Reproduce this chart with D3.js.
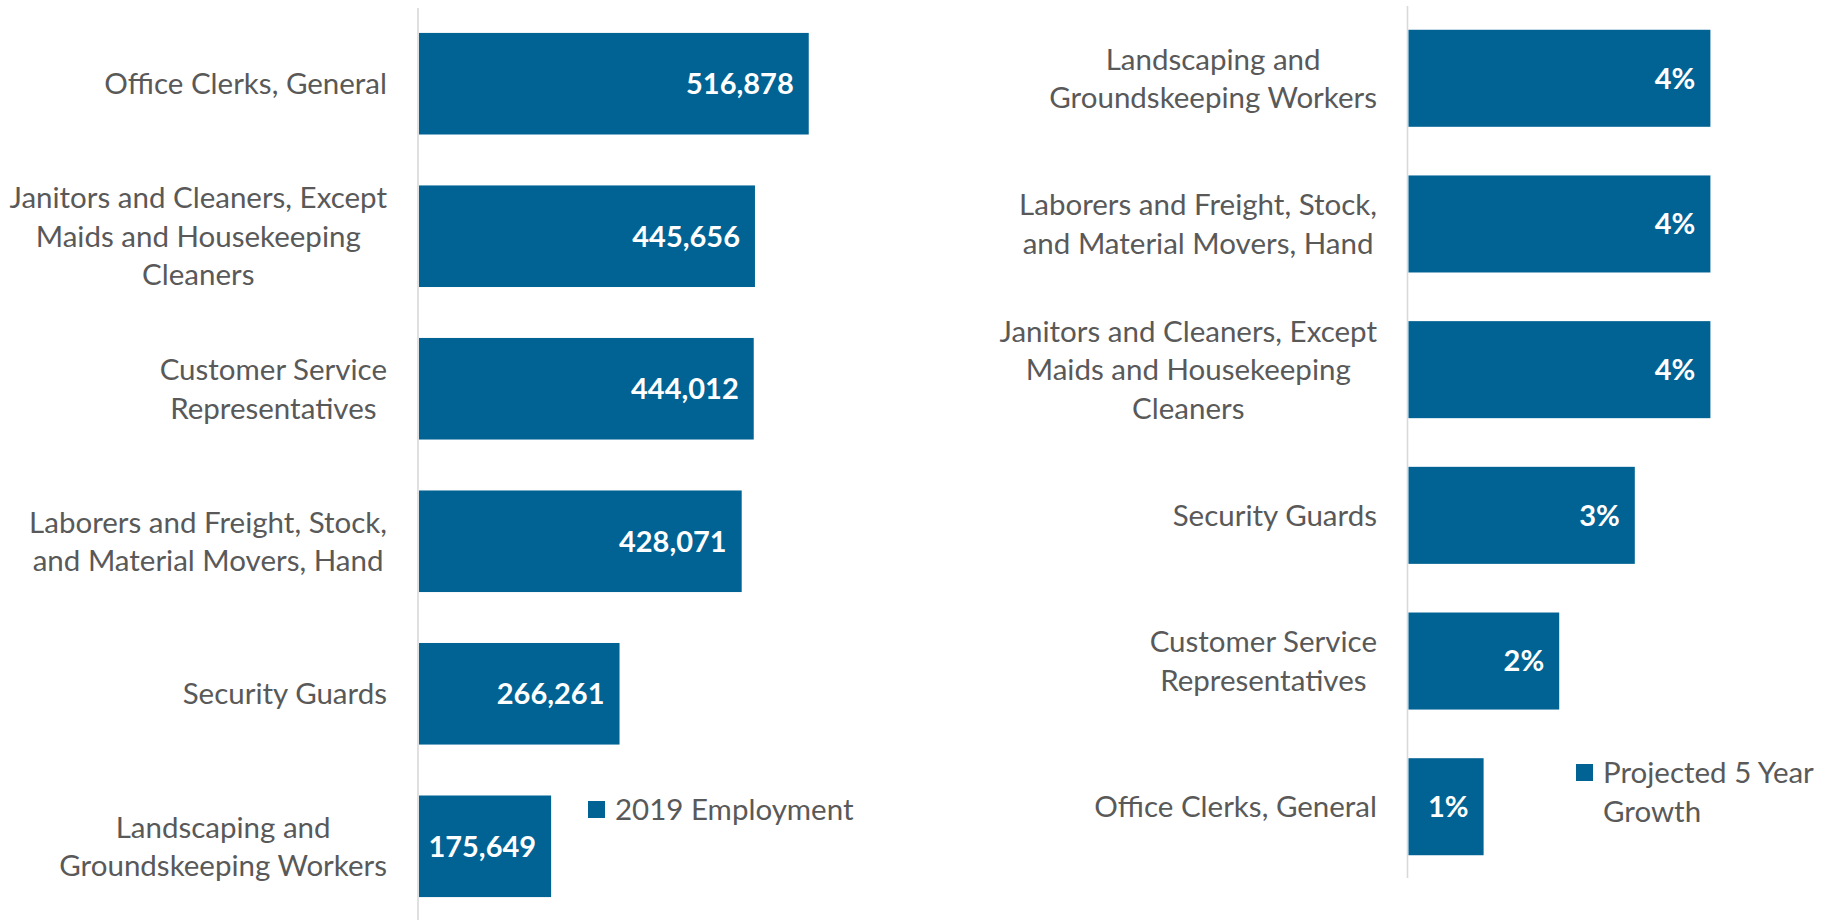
<!DOCTYPE html>
<html>
<head>
<meta charset="utf-8">
<script src="https://cdn.jsdelivr.net/npm/d3@7"></script>
<style>
  html, body { margin: 0; padding: 0; background: #ffffff; }
  svg { display: block; }
  text { font-family: Lato, "Open Sans", sans-serif; }
</style>
</head>
<body>
<svg id="chart" width="1835" height="920"></svg>
<script>
// Occupations by 2019 employment (left panel, top to bottom)
const employmentCategories = [
  "Office Clerks, General",
  "Janitors and Cleaners, Except\nMaids and Housekeeping\nCleaners",
  "Customer Service\nRepresentatives",
  "Laborers and Freight, Stock,\nand Material Movers, Hand",
  "Security Guards",
  "Landscaping and\nGroundskeeping Workers"
];
const employmentValues = [516878, 445656, 444012, 428071, 266261, 175649];
const employmentLegend = ["2019 Employment"];

// Occupations by projected 5-year growth, percent (right panel, top to bottom)
const growthCategories = [
  "Landscaping and\nGroundskeeping Workers",
  "Laborers and Freight, Stock,\nand Material Movers, Hand",
  "Janitors and Cleaners, Except\nMaids and Housekeeping\nCleaners",
  "Security Guards",
  "Customer Service\nRepresentatives",
  "Office Clerks, General"
];
const growthValues = [4, 4, 4, 3, 2, 1];
const growthLegend = ["Projected 5 Year", "Growth"];

const BAR = "#006394";
const AXIS = "#d9d9d9";
const TEXT = "#595959";
const FONT_SIZE = 29.5;
const VALUE_SIZE = 29;
const LINE_H = 38.5;

const svg = d3.select("#chart");
const fmtComma = d3.format(",");

function drawPanel(cfg) {
  const g = svg.append("g");

  const y = d3.scaleBand()
    .domain(cfg.categories)
    .range(cfg.yRange)
    .paddingInner(0.334)
    .paddingOuter(0.17);

  const x = d3.scaleLinear()
    .domain(cfg.xDomain)
    .range(cfg.xRange);

  // vertical category axis line
  g.append("line")
    .attr("x1", x(0) - 0.5).attr("x2", x(0) - 0.5)
    .attr("y1", cfg.axisY[0]).attr("y2", cfg.axisY[1])
    .attr("stroke", AXIS).attr("stroke-width", 1.6);

  const data = cfg.categories.map((c, i) => ({ c, v: cfg.values[i] }));

  // bars
  g.selectAll("rect.bar").data(data).join("rect")
    .attr("class", "bar")
    .attr("x", x(0) + 0.5)
    .attr("y", d => y(d.c))
    .attr("width", d => x(d.v) - x(0) - 0.5)
    .attr("height", y.bandwidth())
    .attr("fill", BAR);

  // value labels inside bar ends
  g.selectAll("text.val").data(data).join("text")
    .attr("class", "val")
    .attr("x", d => x(d.v) - 15)
    .attr("y", d => y(d.c) + y.bandwidth() / 2)
    .attr("dy", "0.36em")
    .attr("text-anchor", "end")
    .attr("font-size", VALUE_SIZE)
    .attr("font-weight", "bold")
    .attr("fill", "#ffffff")
    .text(d => cfg.format(d.v));

  // category labels: wrapped lines centred on each other, block right-aligned
  data.forEach(d => {
    const lines = d.c.split("\n");
    const lg = g.append("g");
    const cy = y(d.c) + y.bandwidth() / 2;
    const texts = lines.map((ln, i) =>
      lg.append("text")
        .attr("y", cy + (i - (lines.length - 1) / 2) * LINE_H)
        .attr("dy", "0.36em")
        .attr("text-anchor", "middle")
        .attr("font-size", FONT_SIZE)
        .attr("fill", TEXT)
        .text(ln)
    );
    const maxW = d3.max(texts, t => t.node().getComputedTextLength());
    texts.forEach(t => t.attr("x", cfg.labelRight - maxW / 2));
  });

  // legend
  const lg = g.append("g");
  lg.append("rect")
    .attr("x", cfg.legend.x).attr("y", cfg.legend.y)
    .attr("width", 17).attr("height", 17)
    .attr("fill", BAR);
  cfg.legend.lines.forEach((ln, i) => {
    lg.append("text")
      .attr("x", cfg.legend.x + 27)
      .attr("y", cfg.legend.y + 8.5 + i * LINE_H)
      .attr("dy", "0.36em")
      .attr("font-size", FONT_SIZE)
      .attr("fill", TEXT)
      .text(ln);
  });
}

drawPanel({
  categories: employmentCategories,
  values: employmentValues,
  xDomain: [0, 600000],
  xRange: [418.5, 418.5 + 600000 * 7.55e-4],
  yRange: [7, 923],
  axisY: [8, 920],
  labelRight: 387,
  format: fmtComma,
  legend: { x: 588, y: 801, lines: employmentLegend }
});

drawPanel({
  categories: growthCategories,
  values: growthValues,
  xDomain: [0, 5],
  xRange: [1408, 1408 + 5 * 75.6],
  yRange: [5, 880],
  axisY: [6, 878],
  labelRight: 1377,
  format: v => v + "%",
  legend: { x: 1576, y: 764, lines: growthLegend }
});
</script>
</body>
</html>
